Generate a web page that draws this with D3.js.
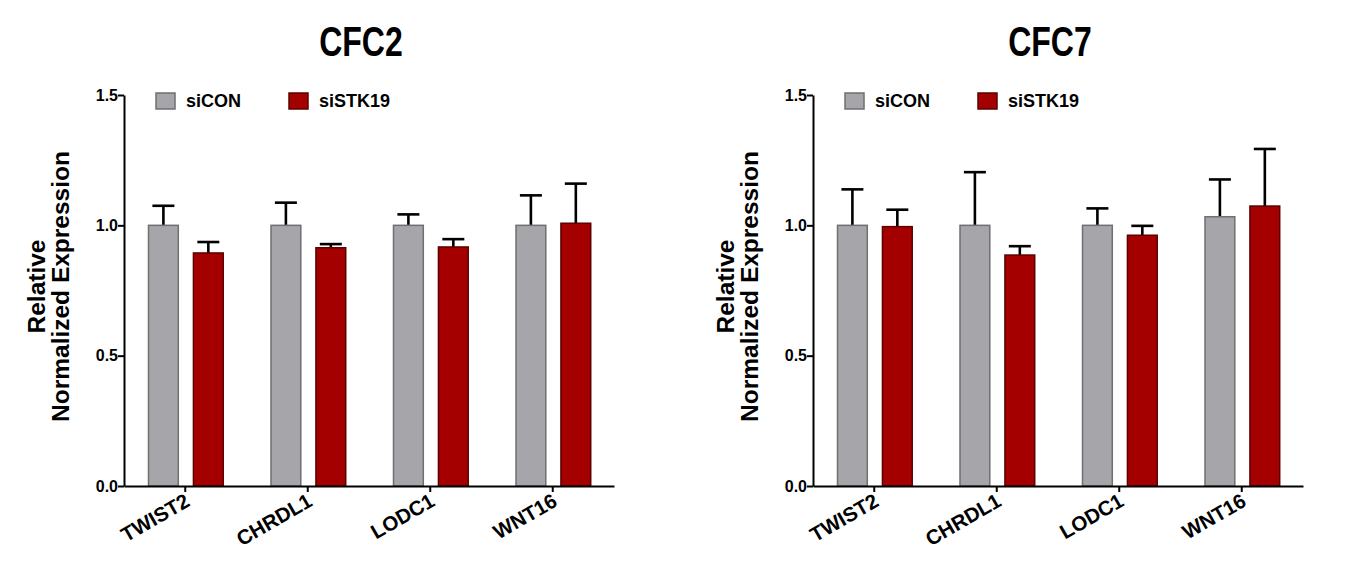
<!DOCTYPE html>
<html>
<head>
<meta charset="utf-8">
<script src="https://cdn.jsdelivr.net/npm/d3@7"></script>
<style>
  body { margin: 0; background: #fff; }
  text { font-family: 'Liberation Sans', Arial, sans-serif; font-weight: bold; }
</style>
</head>
<body>
<svg id="chart" width="1346" height="581"></svg>
<script>
const genes = ['TWIST2', 'CHRDL1', 'LODC1', 'WNT16']
const seriesNames = ['siCON', 'siSTK19']
const yTicks = [0, 0.5, 1.0, 1.5]

// CFC2 panel
const cfc2Con = [1.0, 1.0, 1.0, 1.0]
const cfc2ConErr = [0.075, 0.087, 0.042, 0.115]
const cfc2Stk = [0.894, 0.914, 0.917, 1.008]
const cfc2StkErr = [0.042, 0.014, 0.030, 0.152]

// CFC7 panel
const cfc7Con = [1.0, 1.0, 1.0, 1.033]
const cfc7ConErr = [0.138, 0.204, 0.065, 0.143]
const cfc7Stk = [0.995, 0.886, 0.962, 1.074]
const cfc7StkErr = [0.065, 0.034, 0.036, 0.219]

const fills = { siCON: '#a6a6aa', siSTK19: '#a40000' }
const strokes = { siCON: '#6f6f72', siSTK19: '#5c0000' }

const svg = d3.select('#chart')

const drawPanel = (left, title, con, conErr, stk, stkErr) => {
  const x0 = left
  const x1 = left + 490
  const g = svg.append('g')

  const y = d3.scaleLinear().domain([0, 1.5]).range([486, 95])
  const x = d3.scaleBand().domain(genes).range([x0, x1])
  const xs = d3
    .scaleBand()
    .domain(seriesNames)
    .range([x.bandwidth() * 0.2, x.bandwidth() * 0.81])
    .paddingInner(0.337)

  const rows = genes.map((gene, i) => [
    { gene, s: 'siCON', v: con[i], e: conErr[i] },
    { gene, s: 'siSTK19', v: stk[i], e: stkErr[i] }
  ]).flat()

  // title (source image is stretched vertically)
  g.append('text')
    .attr('transform', `translate(${(x0 + x1) / 2 - 8},56) scale(1,1.3)`)
    .attr('text-anchor', 'middle')
    .style('font-size', '32px')
    .text(title)

  // y label
  const yl = g.append('text')
    .attr('transform', `translate(${x0 - 79},${(95 + 486) / 2 - 4}) rotate(-90)`)
    .attr('text-anchor', 'middle')
    .style('font-size', '24.5px')
  yl.append('tspan').attr('x', 0).attr('dy', 0).text('Relative')
  yl.append('tspan').attr('x', 0).attr('dy', 24).text('Normalized Expression')

  // error bars
  const eb = g.selectAll('.err').data(rows).join('g')
  eb.append('line')
    .attr('x1', d => x(d.gene) + xs(d.s) + xs.bandwidth() / 2)
    .attr('x2', d => x(d.gene) + xs(d.s) + xs.bandwidth() / 2)
    .attr('y1', d => y(d.v))
    .attr('y2', d => y(d.v + d.e))
    .attr('stroke', '#000')
    .attr('stroke-width', 2.6)
  eb.append('line')
    .attr('x1', d => x(d.gene) + xs(d.s) + xs.bandwidth() / 2 - 11)
    .attr('x2', d => x(d.gene) + xs(d.s) + xs.bandwidth() / 2 + 11)
    .attr('y1', d => y(d.v + d.e))
    .attr('y2', d => y(d.v + d.e))
    .attr('stroke', '#000')
    .attr('stroke-width', 2.6)

  // bars
  g.selectAll('.bar').data(rows).join('rect')
    .attr('x', d => x(d.gene) + xs(d.s))
    .attr('width', xs.bandwidth())
    .attr('y', d => y(d.v))
    .attr('height', d => y(0) - y(d.v))
    .attr('fill', d => fills[d.s])
    .attr('stroke', d => strokes[d.s])
    .attr('stroke-width', 1.5)

  // y axis
  const ya = g.append('g')
    .attr('transform', `translate(${x0},0)`)
    .call(d3.axisLeft(y).tickValues(yTicks).tickFormat(d3.format('.1f')).tickSize(6).tickSizeOuter(0))
  ya.selectAll('path, line').attr('stroke', '#000').attr('stroke-width', 2)
  ya.selectAll('text').style('font-size', '16px').attr('fill', '#000').attr('x', -6)

  // x axis
  const xa = g.append('g')
    .attr('transform', 'translate(0,486)')
    .call(d3.axisBottom(x).tickSize(6).tickSizeOuter(0))
  xa.selectAll('path, line').attr('stroke', '#000').attr('stroke-width', 2)
  xa.selectAll('text')
    .style('font-size', '20.5px')
    .attr('fill', '#000')
    .attr('text-anchor', 'end')
    .attr('dy', null)
    .attr('y', null)
    .attr('transform', 'translate(6,19) rotate(-30)')

  // legend
  const lg = g.append('g').attr('transform', `translate(${x0 + 32},93)`)
  seriesNames.forEach((s, i) => {
    const item = lg.append('g').attr('transform', `translate(${i * 133},0)`)
    item.append('rect')
      .attr('width', 19).attr('height', 16)
      .attr('fill', fills[s]).attr('stroke', strokes[s]).attr('stroke-width', 1.5)
    item.append('text')
      .attr('x', 30).attr('y', 14)
      .style('font-size', '18px')
      .text(s)
  })
}

drawPanel(124, 'CFC2', cfc2Con, cfc2ConErr, cfc2Stk, cfc2StkErr)
drawPanel(813, 'CFC7', cfc7Con, cfc7ConErr, cfc7Stk, cfc7StkErr)
</script>
</body>
</html>
